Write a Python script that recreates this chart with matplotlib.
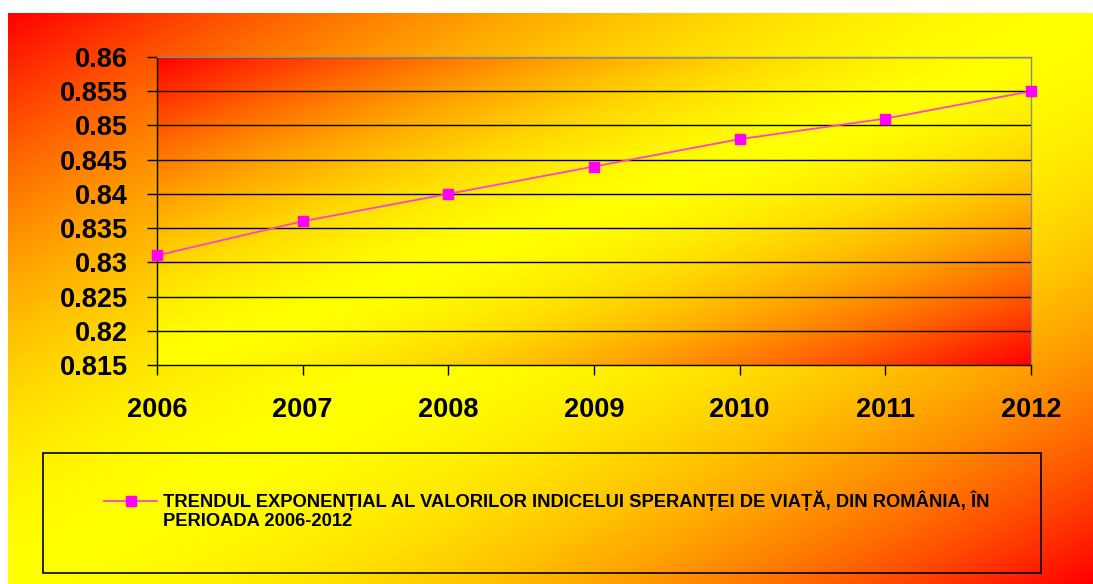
import numpy as np
import matplotlib
matplotlib.use("Agg")
import matplotlib.pyplot as plt
from matplotlib.patches import Rectangle

years = [2006, 2007, 2008, 2009, 2010, 2011, 2012]
values = [0.831, 0.836, 0.840, 0.844, 0.848, 0.851, 0.855]
y_ticks = [0.815, 0.82, 0.825, 0.83, 0.835, 0.84, 0.845, 0.85, 0.855, 0.86]
y_labels = ["0.815", "0.82", "0.825", "0.83", "0.835", "0.84", "0.845", "0.85", "0.855", "0.86"]
legend_line1 = "TRENDUL EXPONENȚIAL AL VALORILOR INDICELUI SPERANȚEI DE VIAȚĂ, DIN ROMÂNIA, ÎN"
legend_line2 = "PERIOADA 2006-2012"

plt.rcParams['font.family'] = ['Liberation Sans', 'DejaVu Sans']
plt.rcParams['font.weight'] = 'bold'

W, H = 1093, 584
fig = plt.figure(figsize=(W / 100, H / 100), dpi=100)
fig.patch.set_facecolor('white')


def gradient(nx, ny, power=1.7):
    u = np.linspace(0, 1, nx)[None, :]
    v = np.linspace(0, 1, ny)[:, None]
    t = (u + v) / 2.0
    f = np.abs(2 * t - 1)
    g = 1 - f ** power
    img = np.zeros((ny, nx, 3))
    img[..., 0] = 1.0
    img[..., 1] = np.clip(g, 0, 1)
    img[..., 2] = 0.0
    return img

# outer background
bg = fig.add_axes([8 / W, 0, 1 - 8 / W, (H - 13) / H])
bg.imshow(gradient(400, 220), aspect='auto', extent=[0, 1, 0, 1], origin='upper')
bg.set_axis_off()
bg.set_zorder(0)

# plot area
L, R, T, B = 157, 1031, 57, 365
ax = fig.add_axes([L / W, (H - B) / H, (R - L) / W, (B - T) / H])
ax.set_zorder(1)
ax.patch.set_alpha(0)
ax.imshow(gradient(400, 150, 1.6), aspect='auto', extent=[0, 1, 0, 1], origin='upper',
          transform=ax.transAxes, zorder=0)

line, = ax.plot(years, values, color='#ff44cc', lw=1.3, marker='s', markersize=6.5,
                markerfacecolor='#ff00ff', markeredgecolor='#ff00ff', zorder=3,
                clip_on=False)

ax.set_xlim(years[0], years[-1])
ax.set_ylim(y_ticks[0], y_ticks[-1])
ax.set_yticks(y_ticks)
ax.set_yticklabels(y_labels)
ax.set_xticks(years)
ax.set_xticklabels([str(y) for y in years])
ax.set_aspect('auto')

for yv in y_ticks[1:]:
    ax.axhline(yv, color='black', lw=1.0, zorder=1)

ax.tick_params(axis='both', direction='out', length=7, width=1, colors='black', labelsize=19.5)
ax.tick_params(axis='y', pad=14)
ax.tick_params(axis='x', pad=16)
for lab in ax.get_xticklabels() + ax.get_yticklabels():
    lab.set_fontweight('bold')

ax.spines['left'].set_color('black')
ax.spines['bottom'].set_color('black')
ax.spines['top'].set_color('#8a8a8a')
ax.spines['right'].set_color('#8a8a8a')
for s in ax.spines.values():
    s.set_linewidth(1.0)
    s.set_zorder(2)

# legend box
fig.patches.append(Rectangle((43 / W, (H - 573) / H), (1041 - 43) / W, (573 - 453) / H,
                             transform=fig.transFigure, fill=False, edgecolor='black', lw=1.2,
                             zorder=5))

leg_fs = 13.2
leg = fig.legend([line], [legend_line1], loc='center left',
                 bbox_to_anchor=(104 / W, (H - 501) / H), frameon=False,
                 prop={'family': ['Liberation Sans', 'DejaVu Sans'], 'weight': 'bold', 'size': leg_fs},
                 handlelength=2.9, handletextpad=0.33, borderpad=0, borderaxespad=0)
leg.set_zorder(6)
fig.text(163 / W, (H - 522) / H, legend_line2, ha='left', va='center', fontsize=leg_fs,
         fontweight='bold', zorder=6)

fig.savefig('out.png', dpi=100)
